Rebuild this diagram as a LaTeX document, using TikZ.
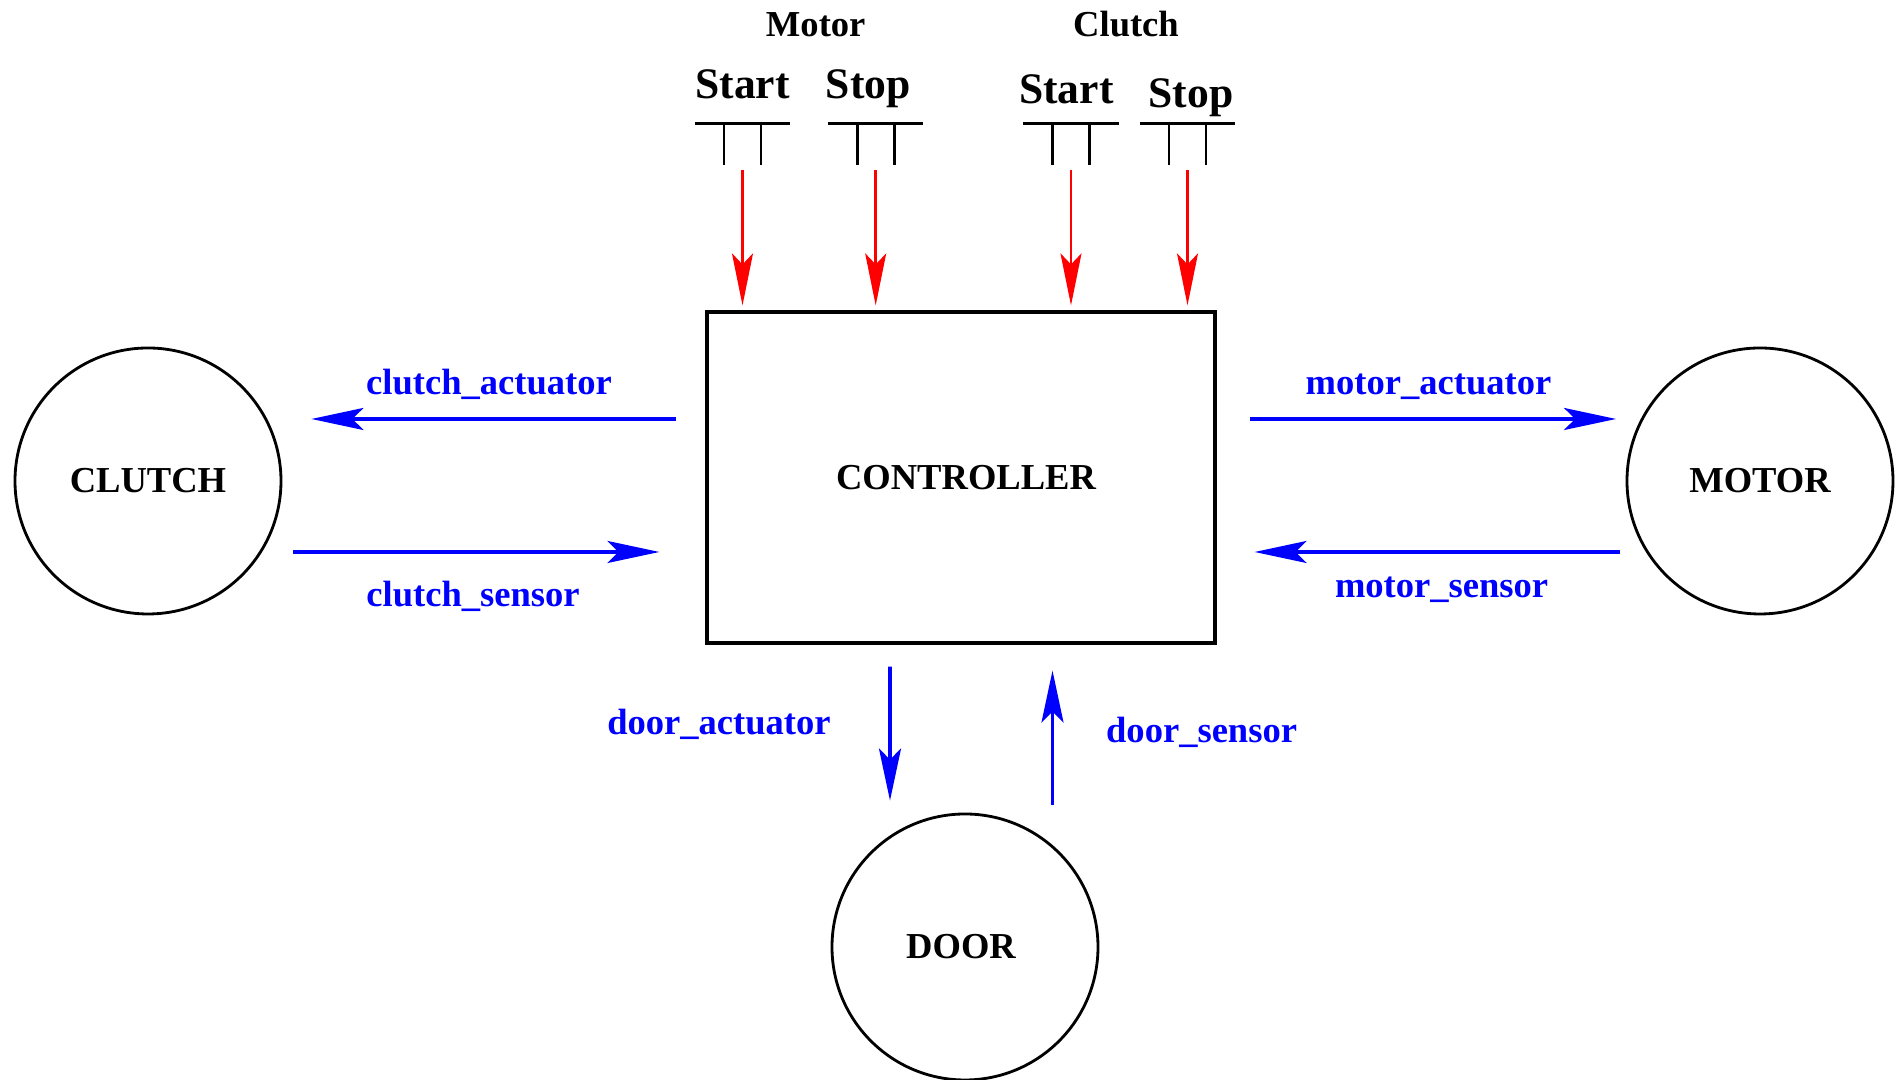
\documentclass[tikz,border=0pt]{standalone}
\usepackage{fontspec}
\setmainfont{Liberation Serif}
\usetikzlibrary{arrows.meta}

\begin{document}
\begin{tikzpicture}[line width=0.85pt,
  unit/.style={circle, draw, line width=0.8pt, minimum size=2.66cm, inner sep=0pt, font=\fontsize{10.4}{12}\selectfont\bfseries},
  sig/.style={-{Stealth[length=0.52cm, width=0.22cm, inset=0.11cm]}, blue, line width=1pt},
  cmd/.style={-{Stealth[length=0.52cm, width=0.21cm, inset=0.11cm]}, red, line width=0.75pt},
  lbl/.style={anchor=base, blue, font=\fontsize{10.4}{12}\selectfont\bfseries}]
  \useasboundingbox (0,0) rectangle (18.98,10.8);
  \node[draw, line width=0.9pt, minimum width=5.08cm, minimum height=3.31cm, font=\fontsize{10.4}{12}\selectfont\bfseries] (ctrl) at (9.61,6.025) {\hspace*{0.1cm}CONTROLLER};
  \node[unit] (clutch) at (1.48,5.99) {CLUTCH};
  \node[unit] (motor) at (17.60,5.99) {MOTOR};
  \node[unit] (door) at (9.65,1.33) {DOOR\hspace*{0.08cm}};
  % 스위치 (Motor / Clutch 의 Start, Stop)
  \node[anchor=base, font=\fontsize{10.4}{12}\selectfont\bfseries] (mhead) at (8.157,10.43) {Motor};
  \node[anchor=base, font=\fontsize{10.4}{12}\selectfont\bfseries] (chead) at (11.26,10.43) {Clutch};
  \foreach \x/\sw/\tx/\ty/\lab in {7.425/mstart/7.425/9.81/Start, 8.757/mstop/8.683/9.81/Stop, 10.71/cstart/10.664/9.76/Start, 11.875/cstop/11.91/9.72/Stop} {
    \coordinate (\sw) at (\x,9.10);
    \draw (\x-0.477,9.56) -- (\x+0.477,9.56);
    \draw (\x-0.185,9.56) -- (\x-0.185,9.15) (\x+0.185,9.56) -- (\x+0.185,9.15);
    \node[anchor=base, font=\fontsize{12.4}{14}\selectfont\bfseries] (\sw-lab) at (\tx,\ty) {\lab};
    \draw[cmd, shorten >=0.05cm] (\sw) -- (\sw |- ctrl.north);
  }
  % 제어기와 각 장치 사이의 신호
  \draw[sig] ([shift={(-0.29,0.585)}]ctrl.west) -- ([shift={(0.29,0.62)}]clutch.east);
  \draw[sig] ([shift={(0.11,-0.71)}]clutch.east) -- ([shift={(-0.46,-0.745)}]ctrl.west);
  \draw[sig] ([shift={(0.33,0.585)}]ctrl.east) -- ([shift={(-0.095,0.62)}]motor.west);
  \draw[sig] ([shift={(-0.055,-0.71)}]motor.west) -- ([shift={(0.38,-0.745)}]ctrl.east);
  \draw[sig] ([shift={(-0.71,-0.22)}]ctrl.south) -- ([shift={(-0.75,0.12)}]door.north);
  \draw[sig] ([shift={(0.875,0.08)}]door.north) -- ([shift={(0.915,-0.26)}]ctrl.south);
  \node[lbl] (ca) at (4.89,6.85) {clutch\_actuator};
  \node[lbl] (cs) at (4.73,4.73) {clutch\_sensor};
  \node[lbl] (ma) at (14.285,6.85) {motor\_actuator};
  \node[lbl] (ms) at (14.416,4.82) {motor\_sensor};
  \node[lbl] (da) at (7.19,3.45) {door\_actuator};
  \node[lbl] (ds) at (12.016,3.37) {door\_sensor};
\end{tikzpicture}
\end{document}
